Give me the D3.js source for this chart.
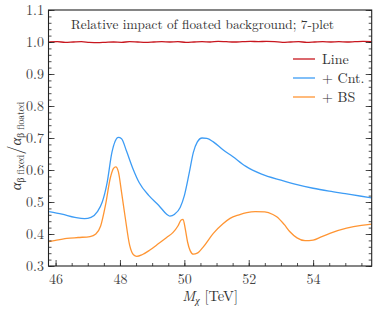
<!DOCTYPE html>
<html><head><meta charset="utf-8">
<script src="https://cdn.jsdelivr.net/npm/d3@7"></script>
<style>
html,body{margin:0;padding:0;background:#fff;}
</style></head>
<body><svg id="c" width="377" height="315"></svg>
<script>
const FONT = '"Latin Modern Roman"';
const titleText = "Relative impact of floated background; 7-plet";
const seriesNames = ["Line", "+ Cnt.", "+ BS"];
const seriesColors = ["#c8161e", "#3d9cf5", "#ff9533"];
const xTicks = [46, 48, 50, 52, 54];
const yTicks = [0.3, 0.4, 0.5, 0.6, 0.7, 0.8, 0.9, 1.0, 1.1];

const massLine = [45.8,46.05,46.3,46.55,46.8,47.05,47.3,47.55,47.8,48.05,48.3,48.55,48.8,49.05,49.3,49.55,49.8,50.05,50.3,50.55,50.8,51.05,51.3,51.55,51.8,52.05,52.3,52.55,52.8,53.05,53.3,53.55,53.8,54.05,54.3,54.55,54.8,55.05,55.3,55.55,55.82];
const lineVals = [1.000,1.001,0.999,1.000,1.001,0.999,0.998,0.999,1.000,0.999,1.001,1.000,0.999,1.000,1.001,1.000,1.001,0.999,1.000,1.001,1.000,1.002,1.001,1.000,1.001,1.002,1.001,1.002,1.001,0.999,1.000,1.001,0.999,1.000,1.001,1.000,1.001,1.000,1.001,1.002,1.001];

const massCnt = [45.8,46.2,46.6,46.9,47.1,47.3,47.45,47.6,47.75,47.85,47.95,48.05,48.2,48.4,48.6,48.9,49.2,49.45,49.55,49.7,49.87,50.0,50.15,50.28,50.4,50.55,50.7,50.9,51.2,51.5,51.9,52.4,53.0,53.5,54.0,54.5,55.0,55.5,55.82];
const cntVals = [0.470,0.462,0.452,0.448,0.452,0.470,0.500,0.560,0.655,0.690,0.702,0.698,0.660,0.605,0.560,0.520,0.490,0.462,0.456,0.462,0.483,0.520,0.590,0.655,0.687,0.700,0.699,0.688,0.663,0.642,0.612,0.587,0.568,0.554,0.543,0.534,0.526,0.518,0.513];

const massBS = [45.8,46.0,46.35,46.7,47.07,47.25,47.4,47.55,47.7,47.8,47.87,47.95,48.05,48.16,48.3,48.42,48.52,48.7,48.93,49.2,49.45,49.65,49.8,49.9,49.96,50.03,50.1,50.18,50.28,50.4,50.59,50.9,51.2,51.42,51.7,51.94,52.2,52.5,52.75,52.87,53.1,53.28,53.5,53.75,54.0,54.25,54.52,55.04,55.5,55.82];
const bsVals = [0.376,0.380,0.386,0.389,0.392,0.400,0.425,0.490,0.575,0.605,0.610,0.595,0.530,0.454,0.365,0.335,0.330,0.336,0.350,0.370,0.389,0.405,0.425,0.444,0.446,0.415,0.375,0.348,0.337,0.340,0.360,0.402,0.432,0.449,0.460,0.467,0.470,0.469,0.461,0.454,0.430,0.407,0.388,0.379,0.381,0.391,0.402,0.418,0.427,0.431];

const svg = d3.select("#c");
const L = 48.5, R = 371.7, T = 10, B = 266;
const x = d3.scaleLinear().domain([45.78, 55.82]).range([L, R]);
const y = d3.scaleLinear().domain([0.3, 1.1]).range([B, T]);

svg.append("clipPath").attr("id","clp").append("rect")
  .attr("x",L).attr("y",T).attr("width",R-L).attr("height",B-T);

const line = d3.line().x(d=>x(d[0])).y(d=>y(d[1])).curve(d3.curveMonotoneX);
const series = [
  d3.zip(massLine, lineVals),
  d3.zip(massCnt, cntVals),
  d3.zip(massBS, bsVals)
];
const g = svg.append("g").attr("clip-path","url(#clp)");
series.forEach((s,i)=>{
  g.append("path").attr("d", line(s)).attr("fill","none")
   .attr("stroke", seriesColors[i]).attr("stroke-width", 1.3);
});

const xMinor = d3.range(46, 55.9, 0.5);
const yMinor = d3.range(0.3, 1.1001, 0.02);
const axB = d3.axisBottom(x).tickValues(xTicks).tickSizeInner(-6).tickSizeOuter(0).tickPadding(8).tickFormat(d3.format("d"));
const axBm = d3.axisBottom(x).tickValues(xMinor).tickSizeInner(-3).tickSizeOuter(0).tickFormat("");
const axL = d3.axisLeft(y).tickValues(yTicks).tickSizeInner(-6).tickSizeOuter(0).tickPadding(4.5).tickFormat(d3.format(".1f"));
const axLm = d3.axisLeft(y).tickValues(yMinor).tickSizeInner(-3).tickSizeOuter(0).tickFormat("");
const axR = d3.axisRight(y).tickValues(yTicks).tickSizeInner(-6).tickSizeOuter(0).tickFormat("");
const axRm = d3.axisRight(y).tickValues(yMinor).tickSizeInner(-3).tickSizeOuter(0).tickFormat("");

function styleAxis(sel){
  sel.attr("font-family", "Latin Modern Roman").attr("font-size", 14);
  sel.select(".domain").remove();
  sel.selectAll("line").attr("stroke","#222").attr("stroke-width",0.8);
  sel.selectAll("text").attr("fill","#444").attr("font-family", "Latin Modern Roman")
    .style("font-family", FONT).style("font-size","14px");
}
svg.append("g").attr("transform",`translate(0,${B})`).call(axB).call(styleAxis);
svg.append("g").attr("transform",`translate(0,${B})`).call(axBm).call(styleAxis);
svg.append("g").attr("transform",`translate(${L},0)`).call(axL).call(styleAxis);
svg.append("g").attr("transform",`translate(${L},0)`).call(axLm).call(styleAxis);
svg.append("g").attr("transform",`translate(${R},0)`).call(axR).call(styleAxis);
svg.append("g").attr("transform",`translate(${R},0)`).call(axRm).call(styleAxis);

svg.append("rect").attr("x",L).attr("y",T).attr("width",R-L).attr("height",B-T)
  .attr("fill","none").attr("stroke","#222").attr("stroke-width",1.1);

const tt = svg.append("text").attr("x",71).attr("y",29).style("font-size","14px").attr("fill","#333")
  .style("font-family", FONT).text(titleText);
const tw = tt.node().getComputedTextLength();
if (tw > 0) tt.style("font-size", (14*263/tw).toFixed(2)+"px");

const legY = [59, 78, 97];
seriesNames.forEach((n,i)=>{
  svg.append("line").attr("x1",293).attr("x2",315).attr("y1",legY[i]).attr("y2",legY[i])
    .attr("stroke",seriesColors[i]).attr("stroke-width",1.3);
  svg.append("text").attr("x",322).attr("y",legY[i]+5).style("font-size","14px").attr("fill","#333")
    .style("font-family", FONT).text(n);
});

const xl = svg.append("text").attr("x",(L+R)/2).attr("y",301).attr("text-anchor","middle")
  .style("font-size","14.5px").attr("fill","#333").style("font-family", FONT);
xl.append("tspan").attr("font-style","italic").text("M");
xl.append("tspan").style("font-size","10px").attr("dy",3).attr("font-style","italic").text("χ");
xl.append("tspan").attr("dy",-3).text(" [TeV]");

const yl = svg.append("text").attr("transform",`translate(20.5,${(T+B)/2 + 8}) rotate(-90)`)
  .attr("text-anchor","middle").style("font-size","15px").attr("fill","#333").style("font-family", FONT);
yl.append("tspan").attr("font-style","italic").text("α");
yl.append("tspan").style("font-size","9.5px").attr("dy",3).text("β fixed");
yl.append("tspan").style("font-size","18px").attr("dy",-3).text("/");
yl.append("tspan").attr("font-style","italic").text("α");
yl.append("tspan").style("font-size","9.5px").attr("dy",3).text("β floated");
</script></body></html>
